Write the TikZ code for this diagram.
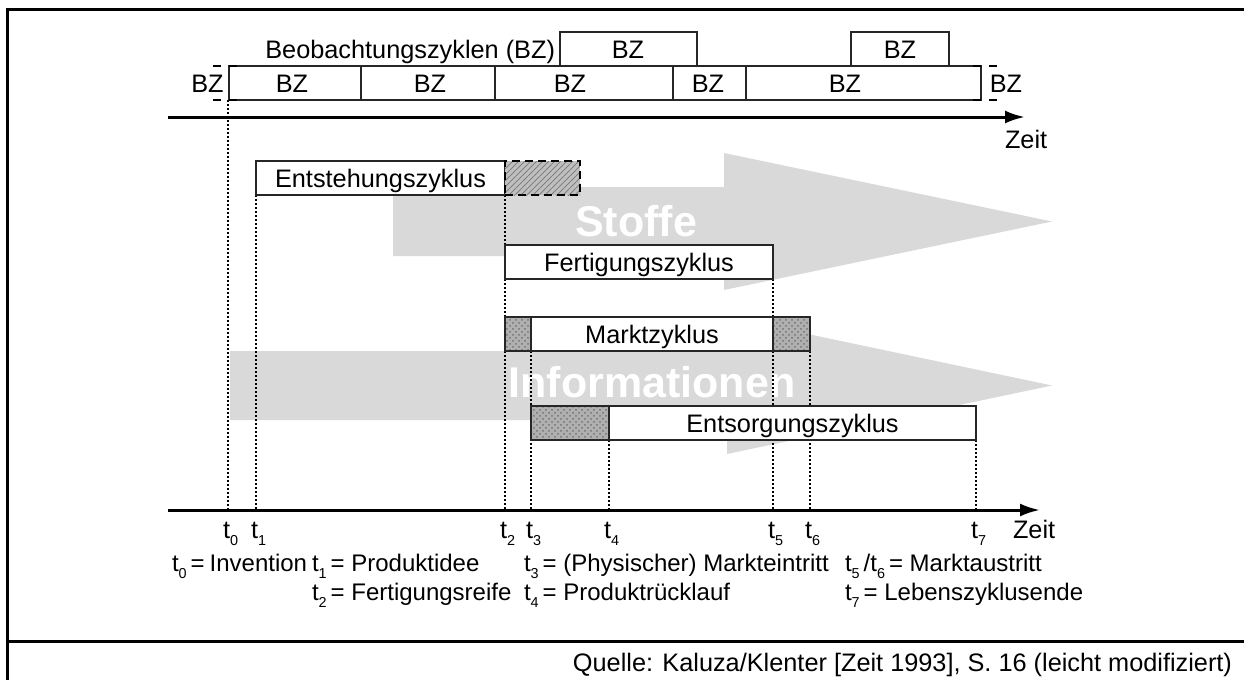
\documentclass[tikz,border=0pt]{standalone}
\usepackage{fontspec}
\setmainfont{Liberation Sans}
\usetikzlibrary{arrows.meta,patterns}
\newcommand\tsub[1]{t\raisebox{-0.3em}{\fontsize{7.2}{8}\selectfont #1}}
\begin{document}
\begin{tikzpicture}[x=0.5pt,y=-0.5pt,
  every node/.style={inner sep=0pt,outer sep=0pt,font=\fontsize{12.65}{15}\selectfont},
  frame/.style={line width=1.5pt,black},
  axis/.style={line width=1.5pt,-{Latex[length=10pt,width=6.5pt]}},
  box/.style={draw=black!85,line width=0.75pt,fill=white,minimum height=17pt,text height=9.06pt,text depth=0pt},
  hatchbox/.style={draw=black!85,line width=0.75pt,minimum height=17pt,preaction={fill=gray!62},pattern=crosshatch dots,pattern color=black!55},
  dhatchbox/.style={draw=black,line width=1.2pt,dash pattern=on 4pt off 2.5pt,minimum height=17pt,preaction={fill=gray!50},pattern=north east lines,pattern color=black!50},
  dotline/.style={line width=1pt,dash pattern=on 1pt off 1pt},
  brk/.style={line width=0.9pt,dash pattern=on 4pt off 4pt},
  flow/.style={fill=gray!30,draw=none},
  flowtext/.style={font=\fontsize{21.5}{24}\selectfont\bfseries,text=white},
  lbl/.style={anchor=base west},
  leg/.style={anchor=base west,font=\fontsize{12}{14}\selectfont},
  bz/.style={text height=9.06pt,text depth=0pt}
]
\useasboundingbox (0,0) rectangle (1244,680);

% frame
\coordinate (fTL) at (7.5,9);
\coordinate (fTR) at (1244,9);
\coordinate (fBL) at (7.5,680);
\coordinate (fML) at (7.5,641);
\coordinate (fMR) at (1244,641);
\draw[frame] (fBL) -- (fTL) -- (fTR);
\draw[frame] (fML) -- (fMR);

% big flow arrows
\fill[flow] (393,187) -- (724,187) -- (724,153) -- (1052,221.5) -- (724,290) -- (724,256) -- (393,256) -- cycle;
\fill[flow] (230,351) -- (727,351) -- (727,317) -- (1052,385.5) -- (727,454) -- (727,420) -- (230,420) -- cycle;
\node[flowtext] (stoffe) at (636,221) {Stoffe};
\node[flowtext] (info) at (652,382) {Informationen};

% axes
\coordinate (aTs) at (168,117);
\coordinate (aTe) at (1025,117);
\coordinate (aBs) at (168,510);
\coordinate (aBe) at (1040,510);
\draw[axis] (aTs) -- (aTe);
\draw[axis] (aBs) -- (aBe);
\node[lbl] (zeitT) at (1005,148) {Zeit};
\node[lbl] (zeitB) at (1013,538) {Zeit};

% observation cycles
\node[box,minimum width=66pt] (bzA) at (295,83) {};
\node[box,minimum width=67pt] (bzB) at (428,83) {};
\node[box,minimum width=89pt] (bzC) at (584,83) {};
\node[box,minimum width=36.5pt] (bzD) at (709.5,83) {};
\node[box,minimum width=117.5pt] (bzE) at (863.5,83) {};
\node[box,minimum width=68.5pt] (bzU1) at (628.5,49) {};
\node[box,minimum width=49pt] (bzU2) at (900,49) {};
\node[bz] (lA) at (292,83) {BZ};
\node[bz] (lB) at (430,83) {BZ};
\node[bz] (lC) at (570,83) {BZ};
\node[bz] (lD) at (708,83) {BZ};
\node[bz] (lE) at (845,83) {BZ};
\node[bz] (lU1) at (628,49) {BZ};
\node[bz] (lU2) at (900,49) {BZ};
\node[bz] (lL) at (207.5,83) {BZ};
\node[bz] (lR) at (1006,83) {BZ};
\node[bz,anchor=east] (beob) at (555,49) {Beobachtungszyklen (BZ)};
\coordinate (bl1) at (213,66); \coordinate (bl2) at (245,66);
\coordinate (bl3) at (213,100); \coordinate (bl4) at (245,100);
\coordinate (br1) at (973,66); \coordinate (br2) at (1000,66);
\coordinate (br3) at (973,100); \coordinate (br4) at (1000,100);
\draw[brk] (bl1) -- (bl2);
\draw[brk] (bl3) -- (bl4);
\draw[brk] (br1) -- (br2);
\draw[brk] (br3) -- (br4);

% tick coordinates on lower axis
\coordinate (T0) at (228,510);
\coordinate (T1) at (256,510);
\coordinate (T2) at (505,510);
\coordinate (T3) at (531,510);
\coordinate (T4) at (609,510);
\coordinate (T5) at (773,510);
\coordinate (T6) at (810,510);
\coordinate (T7) at (976,510);
\coordinate (t0top) at (228,100);
\coordinate (t2top) at (505,195);
\coordinate (t5top) at (773,279);
\coordinate (t6top) at (810,351);
\coordinate (t3top) at (531,351);
\coordinate (t1top) at (256,195);
\coordinate (t4top) at (609,440);
\coordinate (t7top) at (976,440);

% dotted time lines
\draw[dotline] (t0top) -- (T0);
\draw[dotline] (t1top) -- (T1);
\draw[dotline] (t2top) -- (T2);
\draw[dotline] (t3top) -- (T3);
\draw[dotline] (t4top) -- (T4);
\draw[dotline] (t5top) -- (T5);
\draw[dotline] (t6top) -- (T6);
\draw[dotline] (t7top) -- (T7);

% cycles
\node[box,minimum width=124.5pt] (ent) at (380.5,178) {Entstehungszyklus};
\node[dhatchbox,minimum width=37.5pt] (entH) at (542.5,178) {};
\node[box,minimum width=134pt] (fert) at (639,262) {Fertigungszyklus};
\node[hatchbox,minimum width=13pt] (mH1) at (518,334) {};
\node[box,minimum width=121pt] (markt) at (652,334) {Marktzyklus};
\node[hatchbox,minimum width=18.5pt] (mH2) at (791.5,334) {};
\node[hatchbox,minimum width=39pt] (eH) at (570,423) {};
\node[box,minimum width=183.5pt] (ents) at (792.5,423) {Entsorgungszyklus};

% time labels
\node[lbl] (l0) at (223,538) {\tsub{0}};
\node[lbl] (l1) at (251,538) {\tsub{1}};
\node[lbl] (l2) at (500,538) {\tsub{2}};
\node[lbl] (l3) at (526,538) {\tsub{3}};
\node[lbl] (l4) at (604,538) {\tsub{4}};
\node[lbl] (l5) at (768,538) {\tsub{5}};
\node[lbl] (l6) at (805,538) {\tsub{6}};
\node[lbl] (l7) at (971,538) {\tsub{7}};

% legend
\node[leg] (g0) at (172,571) {\tsub{0}\,=\kern2.5pt Invention};
\node[leg] (g1) at (312,571) {\tsub{1}\,= Produktidee};
\node[leg] (g3) at (524,571) {\tsub{3}\,= (Physischer) Markteintritt};
\node[leg] (g5) at (845,571) {\tsub{5}\,/\tsub{6}\,= Marktaustritt};
\node[leg] (g2) at (312,600) {\tsub{2}\,= Fertigungsreife};
\node[leg] (g4) at (524,600) {\tsub{4}\,= Produktrücklauf};
\node[leg] (g7) at (845,600) {\tsub{7}\,= Lebenszyklusende};

% source
\node[anchor=base east] (src) at (1232,671) {Quelle: Kaluza/Klenter [Zeit 1993], S. 16 (leicht modifiziert)};
\end{tikzpicture}
\end{document}
